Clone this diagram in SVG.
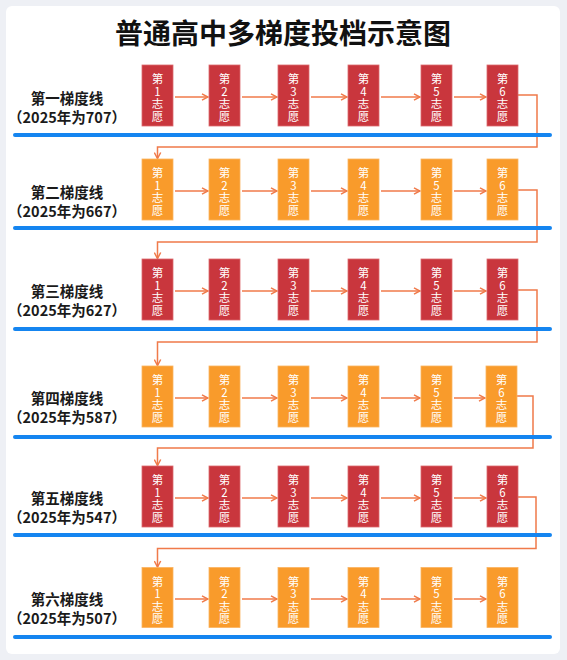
<svg xmlns="http://www.w3.org/2000/svg" width="567" height="660" viewBox="0 0 567 660">
<defs>
<style>
.bg{fill:#eef0f5}
.card{fill:#ffffff}
.title{font-family:"Noto Sans CJK SC","Noto Sans",sans-serif;font-weight:bold;font-size:28px;fill:#111;text-anchor:middle}
.lbl{font-family:"Noto Sans CJK SC","Noto Sans",sans-serif;font-weight:bold;font-size:14.5px;fill:#1a1a1a;text-anchor:middle}
.red{fill:#c9363d;stroke:#dc6a6e;stroke-width:0.8}
.org{fill:#f99b2b;stroke:#fbb462;stroke-width:0.8}
.bt{font-family:"Noto Sans CJK SC","Noto Sans",sans-serif;font-size:11.5px;fill:#fff;text-anchor:middle}
.blue{stroke:#1585f0;stroke-width:4;stroke-linecap:round;fill:none}
.conn{stroke:#f07a4a;stroke-width:1.5;fill:none}
</style>
<marker id="ah" viewBox="0 0 8 8" refX="7" refY="4" markerWidth="8" markerHeight="8" markerUnits="userSpaceOnUse" orient="auto">
<path d="M1,0.8 L7,4 L1,7.2" fill="none" stroke="#f07a4a" stroke-width="1.5"/>
</marker>
</defs>
<rect class="bg" x="0" y="0" width="567" height="660"/>
<rect class="card" x="6" y="6" width="554" height="648" rx="6"/>
<text class="title" x="283" y="44">普通高中多梯度投档示意图</text>

<g id="labels">
<g id="label-1"><text class="lbl" x="67" y="104">第一梯度线</text><text class="lbl" x="67" y="123">（2025年为707）</text></g>
<g id="label-2"><text class="lbl" x="67" y="198">第二梯度线</text><text class="lbl" x="67" y="217">（2025年为667）</text></g>
<g id="label-3"><text class="lbl" x="67" y="297">第三梯度线</text><text class="lbl" x="67" y="316">（2025年为627）</text></g>
<g id="label-4"><text class="lbl" x="67" y="404">第四梯度线</text><text class="lbl" x="67" y="423">（2025年为587）</text></g>
<g id="label-5"><text class="lbl" x="67" y="504">第五梯度线</text><text class="lbl" x="67" y="523">（2025年为547）</text></g>
<g id="label-6"><text class="lbl" x="67" y="605">第六梯度线</text><text class="lbl" x="67" y="624">（2025年为507）</text></g>
</g>

<g id="connectors">
<path class="conn" marker-end="url(#ah)" d="M175,97 H208"/>
<path class="conn" marker-end="url(#ah)" d="M242,97 H277"/>
<path class="conn" marker-end="url(#ah)" d="M311,97 H347"/>
<path class="conn" marker-end="url(#ah)" d="M381,97 H420"/>
<path class="conn" marker-end="url(#ah)" d="M454,97 H486"/>
<path class="conn" marker-end="url(#ah)" d="M518,95 H537 V147 H157.5 V158.5"/>
<path class="conn" marker-end="url(#ah)" d="M175,191 H208"/>
<path class="conn" marker-end="url(#ah)" d="M242,191 H277"/>
<path class="conn" marker-end="url(#ah)" d="M311,191 H347"/>
<path class="conn" marker-end="url(#ah)" d="M381,191 H420"/>
<path class="conn" marker-end="url(#ah)" d="M454,191 H486"/>
<path class="conn" marker-end="url(#ah)" d="M518,190 H537 V242 H157.5 V258.5"/>
<path class="conn" marker-end="url(#ah)" d="M175,291 H208"/>
<path class="conn" marker-end="url(#ah)" d="M242,291 H277"/>
<path class="conn" marker-end="url(#ah)" d="M311,291 H347"/>
<path class="conn" marker-end="url(#ah)" d="M381,291 H420"/>
<path class="conn" marker-end="url(#ah)" d="M454,291 H486"/>
<path class="conn" marker-end="url(#ah)" d="M518,290 H537 V342 H157.5 V365.5"/>
<path class="conn" marker-end="url(#ah)" d="M175,398 H208"/>
<path class="conn" marker-end="url(#ah)" d="M242,398 H277"/>
<path class="conn" marker-end="url(#ah)" d="M311,398 H347"/>
<path class="conn" marker-end="url(#ah)" d="M381,398 H420"/>
<path class="conn" marker-end="url(#ah)" d="M454,398 H485"/>
<path class="conn" marker-end="url(#ah)" d="M517,396 H533 V448 H157.5 V465.5"/>
<path class="conn" marker-end="url(#ah)" d="M175,498 H208"/>
<path class="conn" marker-end="url(#ah)" d="M242,498 H277"/>
<path class="conn" marker-end="url(#ah)" d="M311,498 H347"/>
<path class="conn" marker-end="url(#ah)" d="M381,498 H420"/>
<path class="conn" marker-end="url(#ah)" d="M454,498 H486"/>
<path class="conn" marker-end="url(#ah)" d="M518,497 H536 V548.5 H157.5 V567"/>
<path class="conn" marker-end="url(#ah)" d="M175,599 H208"/>
<path class="conn" marker-end="url(#ah)" d="M242,599 H277"/>
<path class="conn" marker-end="url(#ah)" d="M311,599 H347"/>
<path class="conn" marker-end="url(#ah)" d="M381,599 H420"/>
<path class="conn" marker-end="url(#ah)" d="M454,599 H486"/>
</g>

<g id="lines">
<line class="blue" x1="15" y1="135" x2="550" y2="135"/>
<line class="blue" x1="15" y1="228" x2="550" y2="228"/>
<line class="blue" x1="15" y1="329" x2="550" y2="329"/>
<line class="blue" x1="15" y1="437" x2="550" y2="437"/>
<line class="blue" x1="15" y1="535" x2="550" y2="535"/>
<line class="blue" x1="15" y1="637" x2="550" y2="637"/>
</g>

<g id="row1">
<g id="r1b1"><rect class="red" x="142" y="65" width="31" height="61"/><text class="bt" x="157.5" y="83">第</text><text class="bt" x="157.5" y="95.5">1</text><text class="bt" x="157.5" y="108">志</text><text class="bt" x="157.5" y="120.5">愿</text></g>
<g id="r1b2"><rect class="red" x="209" y="65" width="31" height="61"/><text class="bt" x="224.5" y="83">第</text><text class="bt" x="224.5" y="95.5">2</text><text class="bt" x="224.5" y="108">志</text><text class="bt" x="224.5" y="120.5">愿</text></g>
<g id="r1b3"><rect class="red" x="278" y="65" width="31" height="61"/><text class="bt" x="293.5" y="83">第</text><text class="bt" x="293.5" y="95.5">3</text><text class="bt" x="293.5" y="108">志</text><text class="bt" x="293.5" y="120.5">愿</text></g>
<g id="r1b4"><rect class="red" x="348" y="65" width="31" height="61"/><text class="bt" x="363.5" y="83">第</text><text class="bt" x="363.5" y="95.5">4</text><text class="bt" x="363.5" y="108">志</text><text class="bt" x="363.5" y="120.5">愿</text></g>
<g id="r1b5"><rect class="red" x="421" y="65" width="31" height="61"/><text class="bt" x="436.5" y="83">第</text><text class="bt" x="436.5" y="95.5">5</text><text class="bt" x="436.5" y="108">志</text><text class="bt" x="436.5" y="120.5">愿</text></g>
<g id="r1b6"><rect class="red" x="487" y="65" width="31" height="61"/><text class="bt" x="502.5" y="83">第</text><text class="bt" x="502.5" y="95.5">6</text><text class="bt" x="502.5" y="108">志</text><text class="bt" x="502.5" y="120.5">愿</text></g>
</g>

<g id="row2">
<g id="r2b1"><rect class="org" x="142" y="159" width="31" height="61"/><text class="bt" x="157.5" y="177">第</text><text class="bt" x="157.5" y="189.5">1</text><text class="bt" x="157.5" y="202">志</text><text class="bt" x="157.5" y="214.5">愿</text></g>
<g id="r2b2"><rect class="org" x="209" y="159" width="31" height="61"/><text class="bt" x="224.5" y="177">第</text><text class="bt" x="224.5" y="189.5">2</text><text class="bt" x="224.5" y="202">志</text><text class="bt" x="224.5" y="214.5">愿</text></g>
<g id="r2b3"><rect class="org" x="278" y="159" width="31" height="61"/><text class="bt" x="293.5" y="177">第</text><text class="bt" x="293.5" y="189.5">3</text><text class="bt" x="293.5" y="202">志</text><text class="bt" x="293.5" y="214.5">愿</text></g>
<g id="r2b4"><rect class="org" x="348" y="159" width="31" height="61"/><text class="bt" x="363.5" y="177">第</text><text class="bt" x="363.5" y="189.5">4</text><text class="bt" x="363.5" y="202">志</text><text class="bt" x="363.5" y="214.5">愿</text></g>
<g id="r2b5"><rect class="org" x="421" y="159" width="31" height="61"/><text class="bt" x="436.5" y="177">第</text><text class="bt" x="436.5" y="189.5">5</text><text class="bt" x="436.5" y="202">志</text><text class="bt" x="436.5" y="214.5">愿</text></g>
<g id="r2b6"><rect class="org" x="487" y="159" width="31" height="61"/><text class="bt" x="502.5" y="177">第</text><text class="bt" x="502.5" y="189.5">6</text><text class="bt" x="502.5" y="202">志</text><text class="bt" x="502.5" y="214.5">愿</text></g>
</g>

<g id="row3">
<g id="r3b1"><rect class="red" x="142" y="259" width="31" height="61"/><text class="bt" x="157.5" y="277">第</text><text class="bt" x="157.5" y="289.5">1</text><text class="bt" x="157.5" y="302">志</text><text class="bt" x="157.5" y="314.5">愿</text></g>
<g id="r3b2"><rect class="red" x="209" y="259" width="31" height="61"/><text class="bt" x="224.5" y="277">第</text><text class="bt" x="224.5" y="289.5">2</text><text class="bt" x="224.5" y="302">志</text><text class="bt" x="224.5" y="314.5">愿</text></g>
<g id="r3b3"><rect class="red" x="278" y="259" width="31" height="61"/><text class="bt" x="293.5" y="277">第</text><text class="bt" x="293.5" y="289.5">3</text><text class="bt" x="293.5" y="302">志</text><text class="bt" x="293.5" y="314.5">愿</text></g>
<g id="r3b4"><rect class="red" x="348" y="259" width="31" height="61"/><text class="bt" x="363.5" y="277">第</text><text class="bt" x="363.5" y="289.5">4</text><text class="bt" x="363.5" y="302">志</text><text class="bt" x="363.5" y="314.5">愿</text></g>
<g id="r3b5"><rect class="red" x="421" y="259" width="31" height="61"/><text class="bt" x="436.5" y="277">第</text><text class="bt" x="436.5" y="289.5">5</text><text class="bt" x="436.5" y="302">志</text><text class="bt" x="436.5" y="314.5">愿</text></g>
<g id="r3b6"><rect class="red" x="487" y="259" width="31" height="61"/><text class="bt" x="502.5" y="277">第</text><text class="bt" x="502.5" y="289.5">6</text><text class="bt" x="502.5" y="302">志</text><text class="bt" x="502.5" y="314.5">愿</text></g>
</g>

<g id="row4">
<g id="r4b1"><rect class="org" x="142" y="366" width="31" height="61"/><text class="bt" x="157.5" y="384">第</text><text class="bt" x="157.5" y="396.5">1</text><text class="bt" x="157.5" y="409">志</text><text class="bt" x="157.5" y="421.5">愿</text></g>
<g id="r4b2"><rect class="org" x="209" y="366" width="31" height="61"/><text class="bt" x="224.5" y="384">第</text><text class="bt" x="224.5" y="396.5">2</text><text class="bt" x="224.5" y="409">志</text><text class="bt" x="224.5" y="421.5">愿</text></g>
<g id="r4b3"><rect class="org" x="278" y="366" width="31" height="61"/><text class="bt" x="293.5" y="384">第</text><text class="bt" x="293.5" y="396.5">3</text><text class="bt" x="293.5" y="409">志</text><text class="bt" x="293.5" y="421.5">愿</text></g>
<g id="r4b4"><rect class="org" x="348" y="366" width="31" height="61"/><text class="bt" x="363.5" y="384">第</text><text class="bt" x="363.5" y="396.5">4</text><text class="bt" x="363.5" y="409">志</text><text class="bt" x="363.5" y="421.5">愿</text></g>
<g id="r4b5"><rect class="org" x="421" y="366" width="31" height="61"/><text class="bt" x="436.5" y="384">第</text><text class="bt" x="436.5" y="396.5">5</text><text class="bt" x="436.5" y="409">志</text><text class="bt" x="436.5" y="421.5">愿</text></g>
<g id="r4b6"><rect class="org" x="486" y="366" width="31" height="61"/><text class="bt" x="501.5" y="384">第</text><text class="bt" x="501.5" y="396.5">6</text><text class="bt" x="501.5" y="409">志</text><text class="bt" x="501.5" y="421.5">愿</text></g>
</g>

<g id="row5">
<g id="r5b1"><rect class="red" x="142" y="466" width="31" height="61"/><text class="bt" x="157.5" y="484">第</text><text class="bt" x="157.5" y="496.5">1</text><text class="bt" x="157.5" y="509">志</text><text class="bt" x="157.5" y="521.5">愿</text></g>
<g id="r5b2"><rect class="red" x="209" y="466" width="31" height="61"/><text class="bt" x="224.5" y="484">第</text><text class="bt" x="224.5" y="496.5">2</text><text class="bt" x="224.5" y="509">志</text><text class="bt" x="224.5" y="521.5">愿</text></g>
<g id="r5b3"><rect class="red" x="278" y="466" width="31" height="61"/><text class="bt" x="293.5" y="484">第</text><text class="bt" x="293.5" y="496.5">3</text><text class="bt" x="293.5" y="509">志</text><text class="bt" x="293.5" y="521.5">愿</text></g>
<g id="r5b4"><rect class="red" x="348" y="466" width="31" height="61"/><text class="bt" x="363.5" y="484">第</text><text class="bt" x="363.5" y="496.5">4</text><text class="bt" x="363.5" y="509">志</text><text class="bt" x="363.5" y="521.5">愿</text></g>
<g id="r5b5"><rect class="red" x="421" y="466" width="31" height="61"/><text class="bt" x="436.5" y="484">第</text><text class="bt" x="436.5" y="496.5">5</text><text class="bt" x="436.5" y="509">志</text><text class="bt" x="436.5" y="521.5">愿</text></g>
<g id="r5b6"><rect class="red" x="487" y="466" width="31" height="61"/><text class="bt" x="502.5" y="484">第</text><text class="bt" x="502.5" y="496.5">6</text><text class="bt" x="502.5" y="509">志</text><text class="bt" x="502.5" y="521.5">愿</text></g>
</g>

<g id="row6">
<g id="r6b1"><rect class="org" x="142" y="567.5" width="31" height="60"/><text class="bt" x="157.5" y="585.5">第</text><text class="bt" x="157.5" y="598">1</text><text class="bt" x="157.5" y="610.5">志</text><text class="bt" x="157.5" y="623">愿</text></g>
<g id="r6b2"><rect class="org" x="209" y="567.5" width="31" height="60"/><text class="bt" x="224.5" y="585.5">第</text><text class="bt" x="224.5" y="598">2</text><text class="bt" x="224.5" y="610.5">志</text><text class="bt" x="224.5" y="623">愿</text></g>
<g id="r6b3"><rect class="org" x="278" y="567.5" width="31" height="60"/><text class="bt" x="293.5" y="585.5">第</text><text class="bt" x="293.5" y="598">3</text><text class="bt" x="293.5" y="610.5">志</text><text class="bt" x="293.5" y="623">愿</text></g>
<g id="r6b4"><rect class="org" x="348" y="567.5" width="31" height="60"/><text class="bt" x="363.5" y="585.5">第</text><text class="bt" x="363.5" y="598">4</text><text class="bt" x="363.5" y="610.5">志</text><text class="bt" x="363.5" y="623">愿</text></g>
<g id="r6b5"><rect class="org" x="421" y="567.5" width="31" height="60"/><text class="bt" x="436.5" y="585.5">第</text><text class="bt" x="436.5" y="598">5</text><text class="bt" x="436.5" y="610.5">志</text><text class="bt" x="436.5" y="623">愿</text></g>
<g id="r6b6"><rect class="org" x="487" y="567.5" width="31" height="60"/><text class="bt" x="502.5" y="585.5">第</text><text class="bt" x="502.5" y="598">6</text><text class="bt" x="502.5" y="610.5">志</text><text class="bt" x="502.5" y="623">愿</text></g>
</g>
</svg>
